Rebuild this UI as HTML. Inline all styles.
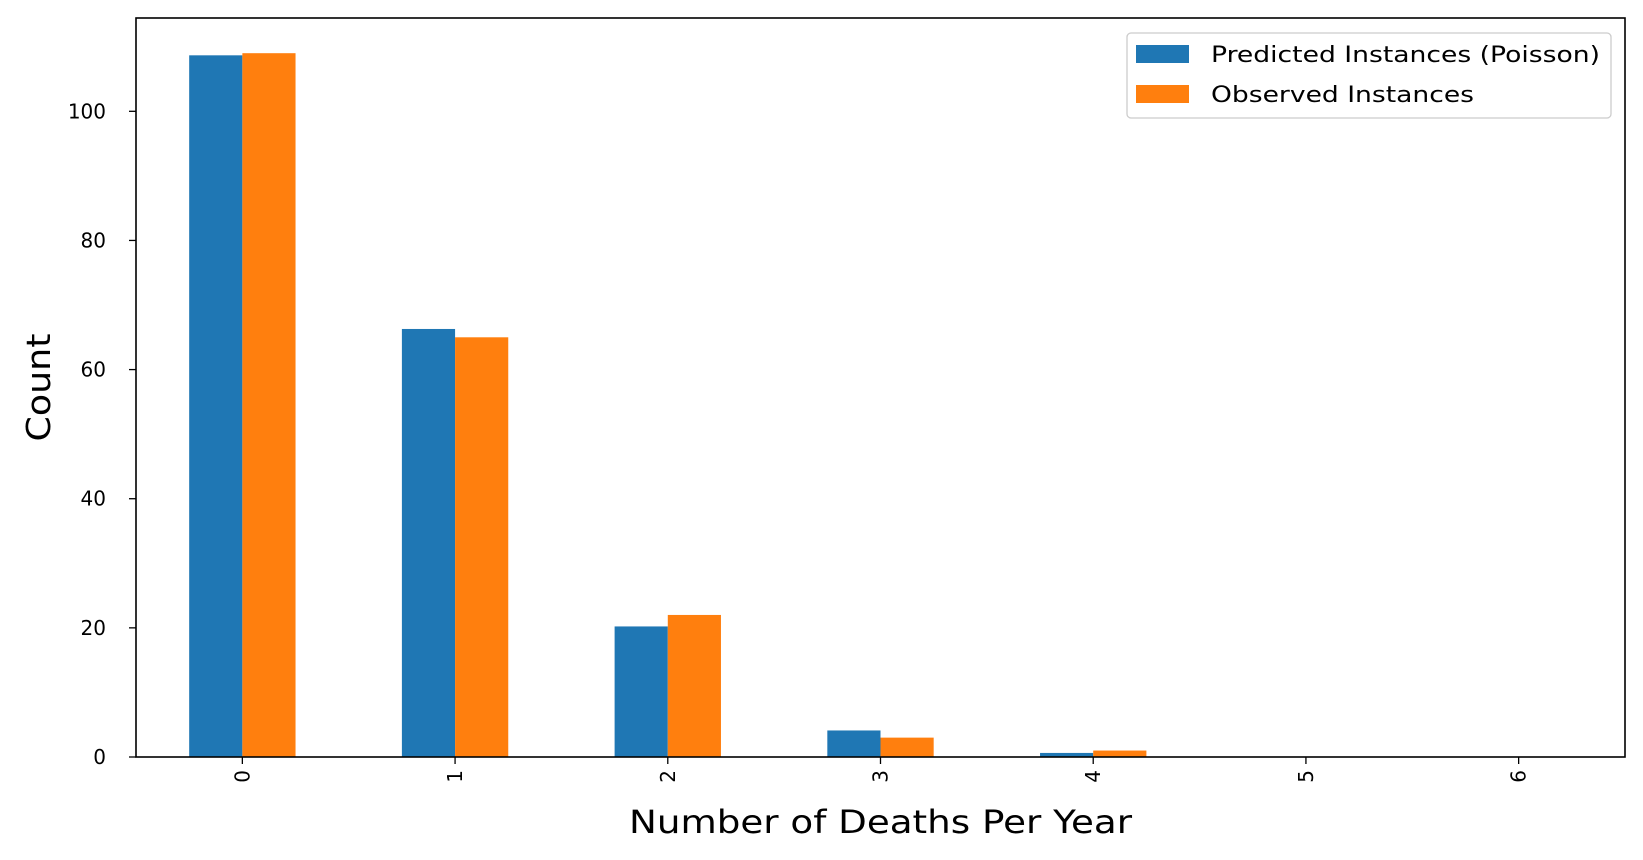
<!DOCTYPE html>
<html><head><meta charset="utf-8"><style>
body{margin:0;background:#fff;}
svg{display:block;font-family:"DejaVu Sans","Liberation Sans",sans-serif;}
</style></head><body>
<svg id="chart" width="1643" height="860"></svg>
<script>
const categories=[0,1,2,3,4,5,6];
const predicted=[108.67,66.29,20.22,4.11,0.63,0.08,0.01];
const observed=[109,65,22,3,1,0,0];
const yTicks=[0,20,40,60,80,100];
const seriesNames=["Predicted Instances (Poisson)","Observed Instances"];
const colors=["#1f77b4","#ff7f0e"];

const NS="http://www.w3.org/2000/svg";
const svg=document.getElementById('chart');
const L=136,R=1625,T=18,B=757;
const yMax=114.45;
function xs(v){return L+(v+0.5)/7*(R-L);}
function ys(v){return B-v/yMax*(B-T);}
function mk(tag,attrs,parent){const e=document.createElementNS(NS,tag);for(const k in attrs)e.setAttribute(k,attrs[k]);(parent||svg).appendChild(e);return e;}
const step=(R-L)/7, bw=step*0.25;
[predicted,observed].forEach((ser,si)=>{
  ser.forEach((v,i)=>{
    const x=xs(categories[i])-bw+si*bw;
    const r=mk('rect',{x:x,y:ys(v),width:bw,height:Math.max(0,B-ys(v)),fill:colors[si]});
    
    
  });
});
const frame=mk('rect',{x:L,y:T,width:R-L,height:B-T,fill:'none',stroke:'#000','stroke-width':1.6});


yTicks.forEach(t=>{
  const y=ys(t);
  mk('line',{x1:L-7,x2:L,y1:y,y2:y,stroke:'#000','stroke-width':1.3});
  const tx=mk('text',{x:L-30,y:y+7,'text-anchor':'end','font-size':20,fill:'#000'});
  tx.textContent=t;
  
  
});
categories.forEach(c=>{
  const x=xs(c);
  mk('line',{x1:x,x2:x,y1:B,y2:B+7,stroke:'#000','stroke-width':1.3});
  const tx=mk('text',{x:0,y:0,'text-anchor':'end','font-size':20,fill:'#000',transform:`translate(${x+7},${B+13}) rotate(-90)`});
  tx.textContent=c;
  
  
});
const yl=mk('text',{x:0,y:0,'text-anchor':'middle','font-size':33,textLength:108,lengthAdjust:'spacingAndGlyphs',transform:`translate(50,${(T+B)/2}) rotate(-90)`});
yl.textContent='Count';


const xl=mk('text',{x:(L+R)/2,y:833,'text-anchor':'middle','font-size':32,textLength:503,lengthAdjust:'spacingAndGlyphs'});
xl.textContent='Number of Deaths Per Year';


const lg=mk('g',{});


mk('rect',{x:1127,y:33,width:484,height:85,rx:4,fill:'#fff',stroke:'#ccc','stroke-width':1.3},lg);
const legendLens=[389,263];
seriesNames.forEach((n,i)=>{
  const y=51+i*40;
  const sw=mk('rect',{x:1136,y:y-6,width:53,height:18,fill:colors[i]},lg);
  
  
  const t=mk('text',{x:1211,y:y+11,'font-size':22,textLength:legendLens[i],lengthAdjust:'spacingAndGlyphs'},lg);
  t.textContent=n;
  
  
});
</script>
</body></html>
